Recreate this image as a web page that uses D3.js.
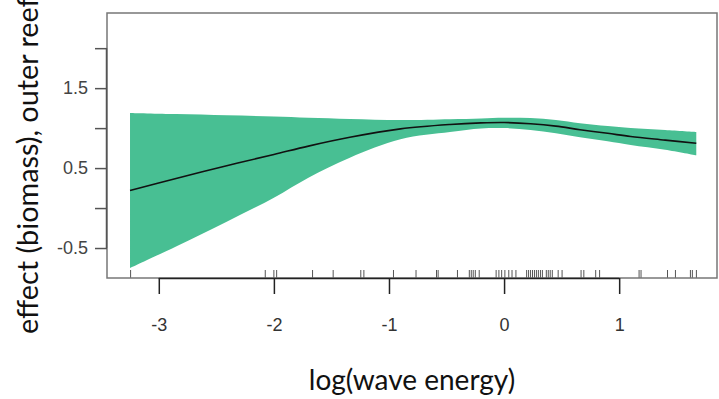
<!DOCTYPE html>
<html><head><meta charset="utf-8">
<script src="https://cdn.jsdelivr.net/npm/d3@7"></script>
<style>body{margin:0;background:#fff;} svg{display:block;}</style>
</head><body>
<svg id="chart" width="719" height="399"></svg>
<script>
// Smooth-term data: log(wave energy) vs effect (biomass), outer reef
const xVals  = [-3.25, -2.85, -2.41, -2.0, -1.7, -1.34, -0.9, -0.47, -0.2, 0.0, 0.23, 0.45, 0.66, 0.9, 1.1, 1.4, 1.67];
const fitVals   = [0.22, 0.37, 0.53, 0.67, 0.775, 0.885, 0.99, 1.045, 1.065, 1.07, 1.055, 1.025, 0.98, 0.935, 0.895, 0.85, 0.81];
const upperVals = [1.19, 1.175, 1.16, 1.145, 1.13, 1.115, 1.10, 1.11, 1.12, 1.13, 1.125, 1.10, 1.06, 1.025, 1.0, 0.975, 0.95];
const lowerVals = [-0.75, -0.48, -0.17, 0.13, 0.38, 0.63, 0.86, 0.95, 0.995, 1.0, 0.975, 0.935, 0.885, 0.835, 0.79, 0.73, 0.66];
const rugVals = [-3.245, -2.075, -2.0, -1.976, -1.664, -1.485, -1.245, -1.218, -0.961, -0.765, -0.587, -0.573, -0.405,
  -0.302, -0.285, -0.268, -0.25, -0.216, -0.069, -0.045, -0.021, 0.007, 0.041, 0.069, 0.103, 0.196, 0.213, 0.23,
  0.247, 0.264, 0.281, 0.298, 0.316, 0.333, 0.367, 0.384, 0.401, 0.419, 0.47, 0.504, 0.669, 0.693, 0.796, 0.83,
  1.173, 1.19, 1.42, 1.489, 1.619, 1.636, 1.671];
const xTicks = [-3, -2, -1, 0, 1];
const yTicks = [-0.5, 0, 0.5, 1.0, 1.5, 2.0];
const yTickLabels = {"-0.5": "-0.5", "0.5": "0.5", "1.5": "1.5"};
const xTitle = "log(wave energy)";
const yTitle = "effect (biomass), outer reef";

const svg = d3.select("#chart");
const box = {left: 107, right: 717, top: 13, bottom: 278};
const x = d3.scaleLinear().domain([-3.45, 1.85]).range([box.left, box.right]);
const y = d3.scaleLinear().domain([-0.875, 2.44]).range([box.bottom, box.top]);

const pts = xVals.map((v, i) => ({x: v, f: fitVals[i], u: upperVals[i], l: lowerVals[i]}));
const curve = d3.curveCatmullRom.alpha(0.5);

svg.append("path").datum(pts)
  .attr("fill", "#48bf93")
  .attr("d", d3.area().x(d => x(d.x)).y0(d => y(d.l)).y1(d => y(d.u)).curve(curve));

svg.append("path").datum(pts)
  .attr("fill", "none").attr("stroke", "#111").attr("stroke-width", 1.6)
  .attr("d", d3.line().x(d => x(d.x)).y(d => y(d.f)).curve(curve));

// rug
svg.append("g").selectAll("line").data(rugVals).join("line")
  .attr("x1", d => x(d)).attr("x2", d => x(d))
  .attr("y1", box.bottom - 8).attr("y2", box.bottom)
  .attr("stroke", "#555").attr("stroke-width", 1);

// box
svg.append("rect").attr("x", box.left).attr("y", box.top)
  .attr("width", box.right - box.left).attr("height", box.bottom - box.top)
  .attr("fill", "none").attr("stroke", "#777").attr("stroke-width", 1.5);

const tickFont = "'Liberation Sans', Arial, Helvetica, sans-serif";

// x axis
const xAxis = svg.append("g").attr("transform", `translate(0,${box.bottom})`)
  .call(d3.axisBottom(x).tickValues(xTicks).tickSize(16).tickPadding(37).tickFormat(d => String(d)));
xAxis.select(".domain").attr("d", `M${x(-3)},0.5H${x(1)}`).attr("stroke", "#222").attr("stroke-width", 1.5);
xAxis.selectAll(".tick line").attr("stroke", "#222").attr("stroke-width", 1.5);
xAxis.selectAll("text").style("font-family", tickFont).style("font-size", "18px").attr("fill", "#333").attr("dy", "0");

// y axis
const yAxis = svg.append("g").attr("transform", `translate(${box.left},0)`)
  .call(d3.axisLeft(y).tickValues(yTicks).tickSize(12).tickPadding(7).tickFormat(d => yTickLabels[String(d)] || ""));
yAxis.select(".domain").attr("d", `M-0.5,${y(-0.5)}V${y(2.0)}`).attr("stroke", "#555").attr("stroke-width", 1.5);
yAxis.selectAll(".tick line").attr("stroke", "#555").attr("stroke-width", 1.5);
yAxis.selectAll("text").style("font-family", tickFont).style("font-size", "18px").attr("fill", "#444");

// titles
svg.append("text").attr("x", 412).attr("y", 390).attr("text-anchor", "middle")
  .style("font-family", "Lato, 'Open Sans', sans-serif").style("font-size", "28px").attr("fill", "#111")
  .text(xTitle);
svg.append("text").attr("transform", "translate(38,334) rotate(-90)")
  .style("font-family", "Lato, 'Open Sans', sans-serif").style("font-size", "28.8px").attr("fill", "#111")
  .text(yTitle);
</script>
</body></html>
